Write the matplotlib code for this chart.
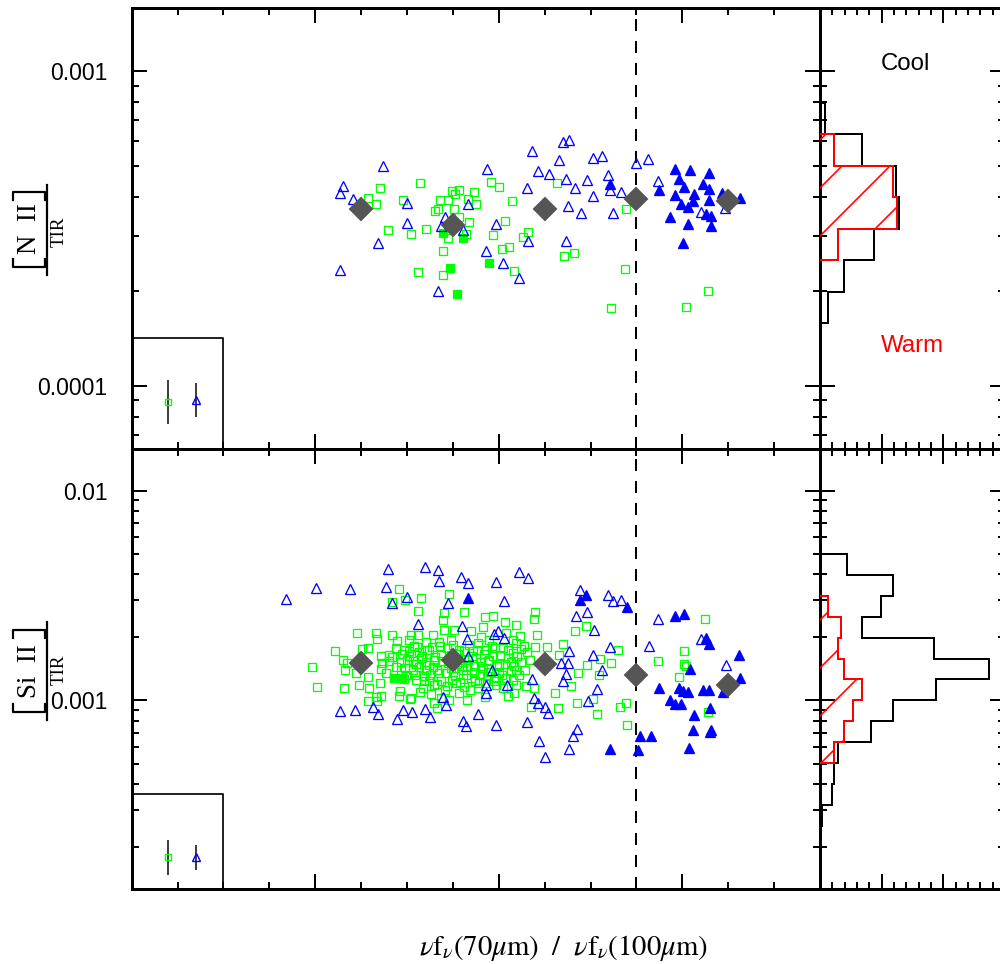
import numpy as np
import matplotlib
matplotlib.use('Agg')
import matplotlib.pyplot as plt
from matplotlib.lines import Line2D
from matplotlib.ticker import MultipleLocator, LogLocator, FuncFormatter, NullFormatter

# ---------------- data (x = nu f_nu(70)/nu f_nu(100), y = log10 of line / TIR) --------------
# Top panel: [N II] / TIR
nii_tri_open_x = [0.861, 0.855, 0.882, 0.948, 0.936, 0.854, 1.001, 0.999, 1.132, 1.074, 1.083,
                  1.121, 1.067, 1.174, 1.193, 1.172, 1.210, 1.244, 1.272, 1.261, 1.285, 1.309,
                  1.263, 1.341, 1.352, 1.332, 1.347, 1.367, 1.351, 1.380, 1.347, 1.405, 1.426,
                  1.393, 1.406, 1.438, 1.442, 1.466, 1.449, 1.500, 1.526, 1.547, 1.640, 1.693]
nii_tri_open_logy = [-3.365, -3.386, -3.406, -3.302, -3.547, -3.632, -3.417, -3.483, -3.423, -3.492,
                     -3.463, -3.505, -3.698, -3.311, -3.486, -3.570, -3.610, -3.658, -3.254, -3.370,
                     -3.317, -3.327, -3.539, -3.224, -3.217, -3.283, -3.341, -3.372, -3.428, -3.450,
                     -3.539, -3.274, -3.270, -3.344, -3.397, -3.330, -3.378, -3.385, -3.450, -3.291,
                     -3.280, -3.348, -3.447, -3.434]
nii_tri_fill_x = [1.443, 1.550, 1.585, 1.617, 1.658, 1.593, 1.604, 1.644, 1.658, 1.584, 1.625, 1.687,
                  1.659, 1.623, 1.597, 1.613, 1.651, 1.662, 1.573, 1.612, 1.663, 1.601, 1.726]
nii_tri_fill_logy = [-3.357, -3.376, -3.311, -3.314, -3.323, -3.343, -3.369, -3.359, -3.375, -3.394,
                     -3.391, -3.386, -3.410, -3.412, -3.423, -3.431, -3.452, -3.459, -3.463, -3.486,
                     -3.491, -3.545, -3.404]
nii_sq_open_x = [0.916, 0.933, 0.941, 0.959, 0.991, 1.008, 1.029, 1.041, 1.023, 1.078, 1.078, 1.089,
                 1.072, 1.061, 1.068, 1.097, 1.104, 1.114, 1.132, 1.145, 1.150, 1.103, 1.114, 1.136,
                 1.129, 1.089, 1.182, 1.201, 1.187, 1.229, 1.214, 1.207, 1.223, 1.233, 1.252, 1.263,
                 1.327, 1.343, 1.364, 1.478, 1.476, 1.444, 1.609, 1.655]
nii_sq_open_logy = [-3.402, -3.423, -3.372, -3.503, -3.410, -3.518, -3.355, -3.502, -3.639, -3.648,
                    -3.570, -3.531, -3.410, -3.444, -3.436, -3.380, -3.391, -3.376, -3.407, -3.383,
                    -3.423, -3.438, -3.463, -3.480, -3.517, -3.410, -3.352, -3.367, -3.521, -3.413,
                    -3.475, -3.565, -3.558, -3.633, -3.526, -3.512, -3.355, -3.587, -3.576, -3.439,
                    -3.628, -3.753, -3.748, -3.697]
nii_sq_fill_x = [1.078, 1.123, 1.093, 1.110, 1.178]
nii_sq_fill_logy = [-3.515, -3.529, -3.624, -3.708, -3.610]
nii_mean_x = [0.9, 1.1, 1.3, 1.5, 1.7]
nii_mean_logy = [-3.436, -3.489, -3.436, -3.405, -3.412]

# Bottom panel: [Si II] / TIR
sii_tri_open = [(0.737, -2.516), (0.801, -2.464), (0.875, -2.469), (0.959, -2.372), (0.954, -2.459),
                (0.968, -2.536), (1.001, -2.504), (1.039, -2.364), (1.067, -2.377), (1.070, -2.428),
                (1.090, -2.533), (1.024, -2.634), (1.118, -2.411), (1.132, -2.440), (1.119, -2.644),
                (1.130, -2.706), (1.133, -2.790), (1.194, -2.435), (1.211, -2.525), (1.244, -2.388),
                (1.263, -2.416), (1.190, -2.683), (1.199, -2.671), (1.212, -2.704), (1.186, -2.857),
                (1.172, -2.925), (1.173, -2.965), (1.218, -2.925), (1.273, -2.898), (1.276, -2.989),
                (1.285, -3.012), (1.300, -3.033), (1.307, -3.060), (0.855, -3.052), (0.886, -3.044),
                (0.926, -3.029), (0.937, -3.065), (0.991, -3.044), (1.010, -3.057), (0.978, -3.089),
                (1.039, -3.041), (1.049, -3.081), (1.078, -2.986), (1.084, -3.024), (1.154, -3.065),
                (1.121, -3.097), (1.128, -3.124), (1.193, -3.119), (1.262, -3.105), (1.287, -3.192),
                (1.300, -3.270), (1.378, -2.475), (1.438, -2.496), (1.449, -2.525), (1.467, -2.520),
                (1.369, -2.599), (1.393, -2.580), (1.407, -2.666), (1.442, -2.745), (1.405, -2.782),
                (1.426, -2.857), (1.352, -2.762), (1.335, -2.822), (1.351, -2.822), (1.346, -2.873),
                (1.341, -2.909), (1.413, -2.944), (1.395, -3.005), (1.370, -3.135), (1.362, -3.172),
                (1.354, -3.230), (1.547, -2.610), (1.527, -2.742), (1.640, -2.706), (1.695, -2.830)]
sii_tri_fill = [(1.133, -2.512), (1.389, -2.496), (1.378, -2.523), (1.480, -2.552), (1.585, -2.595),
                (1.604, -2.587), (1.651, -2.700), (1.658, -2.731), (1.724, -2.782), (1.617, -2.849),
                (1.550, -2.941), (1.593, -2.941), (1.602, -2.957), (1.612, -2.960), (1.644, -2.949),
                (1.659, -2.949), (1.726, -2.893), (1.688, -2.962), (1.574, -2.997), (1.584, -3.017),
                (1.598, -3.017), (1.625, -3.068), (1.660, -3.036), (1.623, -3.143), (1.662, -3.140),
                (1.660, -3.151), (1.507, -3.172), (1.531, -3.172), (1.614, -3.227), (1.443, -3.232),
                (1.503, -3.235)]
sii_sq_open = [(0.793, -2.839), (0.803, -2.938), (0.844, -2.763), (0.865, -2.857), (0.861, -2.806),
               (0.870, -2.822), (0.863, -2.941), (0.890, -2.676), (0.932, -2.676), (0.934, -2.707),
               (0.968, -2.687), (0.979, -2.715), (0.901, -2.755), (0.916, -2.750), (0.888, -2.869),
               (0.914, -2.886), (0.943, -2.850), (0.943, -2.790), (0.961, -2.782), (0.968, -2.793),
               (0.994, -2.758), (0.946, -2.822), (0.895, -2.925), (0.917, -2.941), (0.941, -2.917),
               (0.972, -2.893), (0.985, -2.957), (0.943, -2.978), (0.932, -2.984), (0.914, -3.001),
               (0.934, -3.005), (0.983, -2.981), (0.994, -2.898), (1.000, -2.806), (0.987, -2.854),
               (0.983, -2.467), (0.995, -2.523), (0.967, -2.528), (1.006, -2.992), (1.065, -3.038),
               (1.030, -2.512), (1.025, -2.571), (1.092, -2.493), (1.080, -2.583), (1.078, -2.618),
               (1.125, -2.580), (1.169, -2.602), (1.187, -2.599), (1.214, -2.628), (1.238, -2.639),
               (1.165, -2.650), (1.103, -2.663), (1.139, -2.671), (1.081, -2.666), (1.056, -2.687),
               (1.023, -2.687), (1.008, -2.687), (1.179, -2.711), (1.216, -2.676), (1.231, -2.711),
               (1.041, -2.719), (1.070, -2.723), (1.096, -2.711), (1.154, -2.726), (1.016, -2.739),
               (1.048, -2.758), (1.114, -2.758), (1.143, -2.766), (1.172, -2.758), (1.209, -2.750),
               (1.005, -2.790), (1.030, -2.798), (1.059, -2.806), (1.150, -2.798), (1.179, -2.806),
               (1.220, -2.798), (1.012, -2.854), (1.041, -2.854), (1.070, -2.869), (1.121, -2.854),
               (1.165, -2.845), (1.201, -2.869), (1.019, -2.901), (1.048, -2.909), (1.099, -2.901),
               (1.139, -2.893), (1.194, -2.893), (1.216, -2.893), (1.034, -2.941), (1.114, -2.965),
               (1.154, -2.941), (1.194, -2.925), (1.220, -2.978), (1.008, -2.989), (1.074, -2.989),
               (1.059, -3.012), (1.279, -2.580), (1.277, -2.612), (1.247, -2.691), (1.283, -2.687),
               (1.237, -2.726), (1.249, -2.755), (1.278, -2.745), (1.306, -2.747), (1.231, -2.774),
               (1.261, -2.771), (1.238, -2.854), (1.258, -2.854), (1.267, -2.806), (1.332, -2.782),
               (1.340, -2.730), (1.365, -2.668), (1.391, -2.644), (1.373, -2.869), (1.393, -2.833),
               (1.420, -2.801), (1.444, -2.822), (1.459, -2.758), (1.418, -2.881), (1.358, -2.930),
               (1.322, -2.965), (1.260, -2.930), (1.277, -2.941), (1.234, -2.965), (1.271, -3.029),
               (1.329, -3.036), (1.370, -3.012), (1.405, -2.993), (1.413, -3.063), (1.464, -3.031),
               (1.477, -3.012), (1.479, -3.116), (1.649, -2.610), (1.603, -2.763), (1.546, -2.811),
               (1.603, -2.826), (1.608, -2.838), (1.593, -2.890), (1.655, -3.057), (1.026, -2.768),
               (1.041, -2.815), (1.056, -2.839), (1.074, -2.782), (1.089, -2.820), (1.100, -2.863),
               (1.118, -2.806), (1.131, -2.835), (1.146, -2.863), (1.161, -2.815), (1.177, -2.844),
               (1.188, -2.787), (1.201, -2.825), (1.087, -2.749), (1.107, -2.916), (1.124, -2.935),
               (1.157, -2.916), (1.174, -2.882), (1.209, -2.939), (1.019, -2.825), (1.037, -2.882),
               (1.065, -2.920), (1.083, -2.949), (1.096, -2.782), (1.135, -2.734), (1.161, -2.696),
               (1.192, -2.749), (1.227, -2.815), (1.231, -2.901), (0.995, -2.844), (0.986, -2.815),
               (1.028, -2.959), (1.052, -2.968), (1.091, -2.997), (1.131, -2.997), (1.170, -2.982),
               (1.238, -2.925), (1.249, -2.815), (1.004, -2.711), (0.976, -2.749)]
# densest part of the [Si II] cloud (heavily overlapping squares)
sii_sq_open_core = [(1.005, -2.765), (1.012, -2.812), (1.018, -2.880), (1.022, -2.745), (1.027, -2.840),
                    (1.033, -2.790), (1.036, -2.905), (1.044, -2.760), (1.047, -2.830), (1.050, -2.878),
                    (1.055, -2.745), (1.058, -2.925), (1.062, -2.795), (1.066, -2.855), (1.071, -2.742),
                    (1.075, -2.905), (1.079, -2.812), (1.084, -2.868), (1.088, -2.930), (1.092, -2.800),
                    (1.095, -2.845), (1.101, -2.735), (1.104, -2.885), (1.108, -2.828), (1.112, -2.780),
                    (1.116, -2.910), (1.120, -2.838), (1.125, -2.765), (1.128, -2.880), (1.133, -2.805),
                    (1.137, -2.950), (1.141, -2.790), (1.145, -2.838), (1.149, -2.905), (1.153, -2.760),
                    (1.158, -2.872), (1.162, -2.835), (1.167, -2.780), (1.171, -2.918), (1.176, -2.812),
                    (1.180, -2.862), (1.185, -2.742), (1.190, -2.905), (1.196, -2.838), (1.203, -2.782),
                    (1.208, -2.880), (1.214, -2.825), (1.221, -2.760), (1.226, -2.860), (1.233, -2.838),
                    (0.990, -2.780), (0.997, -2.880), (0.975, -2.840), (0.960, -2.810), (0.955, -2.870),
                    (1.240, -2.790), (1.245, -2.880), (1.255, -2.740)]
sii_sq_fill = [(0.971, -2.892), (0.988, -2.893)]
sii_mean_x = [0.9, 1.1, 1.3, 1.5, 1.7]
sii_mean_logy = [-2.819, -2.809, -2.825, -2.877, -2.928]

# typical error bars (x, log y, +/- dex)
nii_err_sq = (0.48, -4.050, 0.070)
nii_err_tri = (0.54, -4.045, 0.054)
sii_err_sq = (0.48, -3.749, 0.083)
sii_err_tri = (0.54, -3.749, 0.060)

# histograms of log y (edges ascending, values in bins)
nii_hist_edges = [-3.8, -3.7, -3.6, -3.5, -3.4, -3.3, -3.2, -3.1]
nii_hist_all = [0.65, 1.95, 4.38, 6.41, 6.16, 3.41, 0.41]
nii_hist_warm_edges = [-3.6, -3.5, -3.4, -3.3, -3.2]
nii_hist_warm = [1.46, 6.24, 5.92, 1.14]
sii_hist_edges = [-3.6, -3.5, -3.4, -3.3, -3.2, -3.1, -3.0, -2.9, -2.8, -2.7, -2.6, -2.5, -2.4, -2.3]
sii_hist_all = [0.14, 0.95, 1.16, 1.44, 4.14, 5.94, 9.41, 13.71, 9.25, 3.43, 4.92, 5.94, 2.17]
sii_hist_warm_edges = [-3.3, -3.2, -3.1, -3.0, -2.9, -2.8, -2.7, -2.6, -2.5]
sii_hist_warm = [1.16, 1.95, 2.70, 3.43, 1.95, 1.48, 1.68, 0.67]

color_cut = 1.5
line_names = ['N  II', 'Si  II']

# ---------------- style ----------------
plt.rcParams['font.family'] = ['Liberation Sans', 'DejaVu Sans']
plt.rcParams['mathtext.fontset'] = 'stix'
plt.rcParams['hatch.linewidth'] = 0.8

DPI = 144
W, H = 1000, 964
fig = plt.figure(figsize=(W / DPI, H / DPI), dpi=DPI)


def box(x0, y0, x1, y1):
    return [x0 / W, 1 - y1 / H, (x1 - x0) / W, (y1 - y0) / H]


def fx(px):
    return px / W


def fy(py):
    return 1 - py / H


ax_top = fig.add_axes(box(131.7, 8.3, 820, 449))
ax_bot = fig.add_axes(box(131.7, 449, 820, 889))
h_top = fig.add_axes(box(820, 8.3, 1005, 449), sharey=ax_top)
h_bot = fig.add_axes(box(820, 449, 1005, 889), sharey=ax_bot)

BLUE = '#0000ff'
GREEN = '#00ff00'
GREY = '#555555'


def unz(pairs):
    a = np.array(pairs)
    return a[:, 0], a[:, 1]


def scatter_panel(ax, sq_open, sq_fill, tri_open, tri_fill, means, errs, box_top):
    ax.plot(sq_open[0], 10 ** np.asarray(sq_open[1]), 's', ms=4.1, mfc='none', mec=GREEN, mew=0.65, zorder=3)
    ax.plot(sq_fill[0], 10 ** np.asarray(sq_fill[1]), 's', ms=4.1, mfc=GREEN, mec=GREEN, mew=0.65, zorder=3)
    ax.plot(tri_open[0], 10 ** np.asarray(tri_open[1]), '^', ms=5.0, mfc='none', mec=BLUE, mew=0.65, zorder=4)
    ax.plot(tri_fill[0], 10 ** np.asarray(tri_fill[1]), '^', ms=5.0, mfc=BLUE, mec=BLUE, mew=0.65, zorder=4)
    ax.plot(means[0], 10 ** np.asarray(means[1]), 'D', ms=8.0, color=GREY, zorder=6)
    ax.axvline(color_cut, color='k', lw=1.0, ls=(0, (6, 5)), zorder=2)
    # error-bar box
    ax.plot([0.4, 0.6, 0.6], [box_top, box_top, 0], color='k', lw=0.85,
            transform=ax.get_xaxis_transform(), clip_on=False, zorder=2)
    for (ex, ely, ed), mk, col, ms in zip(errs, ['s', '^'], [GREEN, BLUE], [2.8, 3.6]):
        yv = 10 ** ely
        lo = yv - 10 ** (ely - ed)
        hi = 10 ** (ely + ed) - yv
        ax.errorbar([ex], [yv], yerr=[[lo], [hi]], fmt='none', ecolor='k', elinewidth=0.75, capsize=0, zorder=3)
        ax.plot([ex], [yv], mk, ms=ms, mfc='none', mec=col, mew=0.7, zorder=4)


sii_sq_x, sii_sq_y = unz(sii_sq_open + sii_sq_open_core)
scatter_panel(ax_top,
              (nii_sq_open_x, nii_sq_open_logy), (nii_sq_fill_x, nii_sq_fill_logy),
              (nii_tri_open_x, nii_tri_open_logy), (nii_tri_fill_x, nii_tri_fill_logy),
              (nii_mean_x, nii_mean_logy), [nii_err_sq, nii_err_tri], 0.252)
scatter_panel(ax_bot,
              (sii_sq_x, sii_sq_y), unz(sii_sq_fill), unz(sii_tri_open), unz(sii_tri_fill),
              (sii_mean_x, sii_mean_logy), [sii_err_sq, sii_err_tri], 0.215)

for hax, edges, vals, wedges, wvals in [
        (h_top, nii_hist_edges, nii_hist_all, nii_hist_warm_edges, nii_hist_warm),
        (h_bot, sii_hist_edges, sii_hist_all, sii_hist_warm_edges, sii_hist_warm)]:
    hax.stairs(vals, 10 ** np.asarray(edges), orientation='horizontal', baseline=0,
               color='k', lw=1.0, zorder=2)
    hax.stairs(wvals, 10 ** np.asarray(wedges), orientation='horizontal', baseline=0, fill=True,
               facecolor='none', edgecolor='red', hatch='/', lw=1.0, zorder=3)
    hax.set_xlim(0, 15)
    hax.xaxis.set_major_locator(MultipleLocator(5))
    hax.xaxis.set_minor_locator(MultipleLocator(1))

for ax in (ax_top, ax_bot):
    ax.set_yscale('log')
    ax.set_xlim(0.4, 1.9)
    ax.xaxis.set_major_locator(MultipleLocator(0.4))
    ax.xaxis.set_minor_locator(MultipleLocator(0.1))

ax_top.set_ylim(10 ** -4.2, 10 ** -2.8)
ax_bot.set_ylim(10 ** -3.9, 10 ** -1.8)

fmt = FuncFormatter(lambda v, p: f'{v:g}')
for ax in (ax_top, ax_bot, h_top, h_bot):
    ax.yaxis.set_major_locator(LogLocator(base=10))
    ax.yaxis.set_minor_locator(LogLocator(base=10, subs=np.arange(2, 10)))
    ax.yaxis.set_major_formatter(fmt)
    ax.yaxis.set_minor_formatter(NullFormatter())
    ax.tick_params(which='both', direction='in', top=True, right=True, bottom=True, left=True,
                   labelbottom=False, width=1.0)
    ax.tick_params(which='major', length=7.5, labelsize=11.5, pad=12)
    ax.tick_params(which='minor', length=3.5)
    for s in ax.spines.values():
        s.set_linewidth(1.5)

for hax in (h_top, h_bot):
    hax.tick_params(labelleft=False)


# ---- y labels drawn as a fraction:  [line] / TIR  (rotated) ----
def frac_label(name, num_cy, br_top, br_bot, bar_top, bar_bot, tir_cy):
    fig.text(fx(29), fy(num_cy), name, rotation=90, ha='center', va='center',
             fontsize=13.5, family=['Liberation Serif', 'DejaVu Serif'])
    lw = 1.1
    for yb, sgn in ((br_bot, -1), (br_top, 1)):
        fig.add_artist(Line2D([fx(13), fx(13), fx(45), fx(45)],
                              [fy(yb + sgn * 8), fy(yb), fy(yb), fy(yb + sgn * 8)],
                              color='k', lw=lw, transform=fig.transFigure))
    fig.add_artist(Line2D([fx(47), fx(47)], [fy(bar_top), fy(bar_bot)], color='k', lw=1.1,
                          transform=fig.transFigure))
    fig.text(fx(59.5), fy(tir_cy), 'TIR', rotation=90, ha='center', va='center',
             fontsize=9.5, family=['Liberation Serif', 'DejaVu Serif'])


frac_label(line_names[0], 229, 192, 267, 185, 275, 232)
frac_label(line_names[1], 671, 630, 712, 622, 720, 670)

fig.text(0.563, 1 - 948 / H,
         r'$\nu\mathrm{f}_{\nu}(70\mu\mathrm{m})\ \ /\ \ \nu\mathrm{f}_{\nu}(100\mu\mathrm{m})$',
         ha='center', va='center', fontsize=14.3)
fig.text(0.905, 1 - 63.5 / H, 'Cool', ha='center', va='center', fontsize=12, color='k')
fig.text(0.9125, 1 - 346 / H, 'Warm', ha='center', va='center', fontsize=12, color='red')

fig.savefig('out.png', dpi=DPI)
